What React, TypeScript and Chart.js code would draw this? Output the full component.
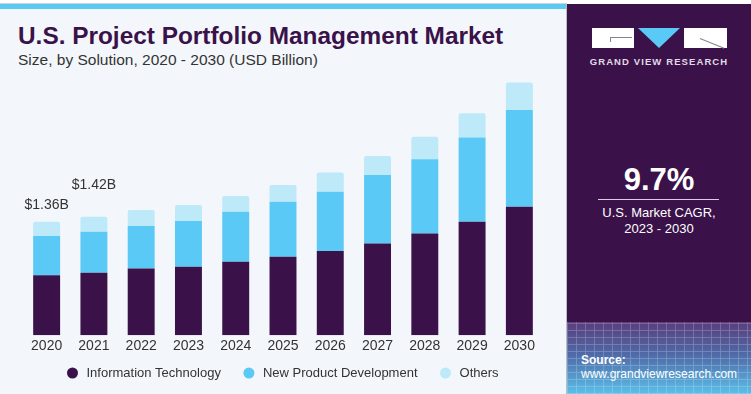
import React, { useEffect, useRef } from "react";
import { Chart, registerables } from "chart.js";

Chart.register(...registerables);

const years = ["2020", "2021", "2022", "2023", "2024", "2025", "2026", "2027", "2028", "2029", "2030"];
const infoTech = [0.72, 0.75, 0.8, 0.82, 0.88, 0.94, 1.01, 1.1, 1.22, 1.36, 1.54];
const newProduct = [0.47, 0.49, 0.51, 0.55, 0.6, 0.66, 0.71, 0.82, 0.89, 1.01, 1.16];
const others = [0.17, 0.18, 0.19, 0.19, 0.19, 0.2, 0.23, 0.23, 0.27, 0.29, 0.33];
const seriesNames = ["Information Technology", "New Product Development", "Others"];
const totalLabels = ["$1.36B", "$1.42B"];

const FONT = "'Liberation Sans', Arial, sans-serif";
const DARK = "#3a1249";
const MID = "#5bc9f5";
const LIGHT = "#bde9f9";

const labelPlugin = {
  id: "totalLabels",
  afterDatasetsDraw(chart: any) {
    const ctx = chart.ctx;
    const yScale = chart.scales.y;
    const meta = chart.getDatasetMeta(2);
    const offsets = [17, 32];
    ctx.save();
    ctx.font = `14px ${FONT}`;
    ctx.fillStyle = "#333333";
    ctx.textAlign = "center";
    ctx.textBaseline = "middle";
    totalLabels.forEach((txt, i) => {
      const total = infoTech[i] + newProduct[i] + others[i];
      const x = meta.data[i].x;
      const y = yScale.getPixelForValue(total) - offsets[i];
      ctx.fillText(txt, x, y);
    });
    ctx.restore();
  },
};

const legendPlugin = {
  id: "customLegend",
  afterDraw(chart: any) {
    const ctx = chart.ctx;
    const area = chart.chartArea;
    const ds = chart.data.datasets;
    const r = 5.5;
    const textGap = 14;
    const itemGap = 28;
    const y = 373;
    ctx.save();
    ctx.font = `13px ${FONT}`;
    const widths = ds.map((d: any) => textGap + ctx.measureText(d.label).width);
    const total = widths.reduce((a: number, b: number) => a + b, 0) + itemGap * (ds.length - 1);
    let x = (area.left + area.right) / 2 - 3 - total / 2 + r;
    ds.forEach((d: any, i: number) => {
      ctx.beginPath();
      ctx.arc(x, y, r, 0, Math.PI * 2);
      ctx.fillStyle = d.backgroundColor;
      ctx.fill();
      ctx.fillStyle = "#333333";
      ctx.textAlign = "left";
      ctx.textBaseline = "middle";
      ctx.fillText(d.label, x + textGap, y);
      x += widths[i] + itemGap;
    });
    ctx.restore();
  },
};

function BarChart() {
  const ref = useRef<HTMLCanvasElement>(null);
  useEffect(() => {
    if (!ref.current) return;
    const chart = new Chart(ref.current, {
      type: "bar",
      data: {
        labels: years,
        datasets: [
          { label: seriesNames[0], data: infoTech, backgroundColor: DARK, borderWidth: 0 },
          { label: seriesNames[1], data: newProduct, backgroundColor: MID, borderWidth: 0 },
          {
            label: seriesNames[2],
            data: others,
            backgroundColor: LIGHT,
            borderWidth: 0,
            borderRadius: { topLeft: 2, topRight: 2, bottomLeft: 0, bottomRight: 0 },
            borderSkipped: false,
          },
        ],
      },
      options: {
        animation: false,
        responsive: false,
        maintainAspectRatio: false,
        layout: { padding: { left: 23, right: 24, top: 60, bottom: 36 } },
        datasets: { bar: { barPercentage: 0.57, categoryPercentage: 1 } },
        plugins: {
          legend: { display: false },
          tooltip: { enabled: false },
        },
        scales: {
          x: {
            stacked: true,
            grid: { display: false, drawTicks: false },
            border: { display: false },
            ticks: { color: "#333333", font: { family: FONT, size: 14 }, padding: 3 },
          },
          y: {
            stacked: true,
            display: false,
            min: 0,
            max: 3.3,
          },
        },
      },
      plugins: [labelPlugin, legendPlugin],
    } as any);
    return () => chart.destroy();
  }, []);
  return <canvas ref={ref} width={567} height={394} style={{ position: "absolute", left: 0, top: 0, width: 567, height: 394 }} />;
}

export default function App() {
  return (
    <div style={{ position: "relative", width: 751, height: 394, overflow: "hidden", background: "#ffffff", fontFamily: FONT }}>
      <style>{`body{margin:0;}`}</style>
      <div style={{ position: "absolute", left: 0, top: 3, width: 567, height: 1, background: "#d0d4d8" }} />
      <div style={{ position: "absolute", left: 0, top: 4, width: 567, height: 5, background: "#5bc9f0" }} />
      <div style={{ position: "absolute", left: 0, top: 9, width: 566, height: 385, background: "#f3f7fb" }} />
      <div style={{ position: "absolute", left: 566, top: 4, width: 1, height: 390, background: "#b8bcc4" }} />
      <div style={{ position: "absolute", left: 18, top: 22, fontSize: 24.4, fontWeight: "bold", color: DARK, whiteSpace: "nowrap" }}>
        U.S. Project Portfolio Management Market
      </div>
      <div style={{ position: "absolute", left: 18, top: 51, fontSize: 15.5, color: "#333333", whiteSpace: "nowrap" }}>
        Size, by Solution, 2020 - 2030 (USD Billion)
      </div>
      <BarChart />
      <div style={{ position: "absolute", left: 567, top: 4, width: 184, height: 390, background: DARK }} />
      <div
        style={{
          position: "absolute",
          left: 567,
          top: 322,
          width: 184,
          height: 72,
          background: "linear-gradient(to bottom, #5a3d7c 0%, #4f6aa8 45%, #5bbfe9 100%)",
        }}
      />
      <div
        style={{
          position: "absolute",
          left: 567,
          top: 322,
          width: 184,
          height: 72,
          opacity: 0.25,
          background:
            "repeating-linear-gradient(90deg, rgba(255,255,255,0.8) 0px, rgba(255,255,255,0.8) 1px, transparent 1px, transparent 9px), repeating-linear-gradient(0deg, rgba(255,255,255,0.8) 0px, rgba(255,255,255,0.8) 1px, transparent 1px, transparent 7px)",
        }}
      />
      {/* logo */}
      <div style={{ position: "absolute", left: 592, top: 28, width: 42, height: 20, background: "#ffffff" }} />
      <div style={{ position: "absolute", left: 610, top: 37, width: 22, height: 1, background: "#8a8090" }} />
      <div style={{ position: "absolute", left: 610, top: 37, width: 1, height: 5, background: "#8a8090" }} />
      <div
        style={{
          position: "absolute",
          left: 638,
          top: 28,
          width: 0,
          height: 0,
          borderLeft: "21px solid transparent",
          borderRight: "21px solid transparent",
          borderTop: "20px solid #5bc9f5",
        }}
      />
      <div style={{ position: "absolute", left: 684, top: 28, width: 43, height: 20, background: "#ffffff" }} />
      <div style={{ position: "absolute", left: 700, top: 38, width: 26, height: 1, background: "#8a8090", transform: "rotate(22deg)", transformOrigin: "left center" }} />
      <div style={{ position: "absolute", left: 567, top: 56, width: 184, textAlign: "center", fontSize: 9.5, fontWeight: "bold", color: "#e0dbe6", letterSpacing: 1.1 }}>
        GRAND VIEW RESEARCH
      </div>
      <div style={{ position: "absolute", left: 567, top: 162, width: 184, textAlign: "center", fontSize: 31, fontWeight: "bold", color: "#ffffff" }}>
        9.7%
      </div>
      <div style={{ position: "absolute", left: 598, top: 199, width: 121, height: 1, background: "#d8d0e0" }} />
      <div style={{ position: "absolute", left: 567, top: 205, width: 184, textAlign: "center", fontSize: 13, color: "#ffffff", lineHeight: "16px" }}>
        U.S. Market CAGR,
        <br />
        2023 - 2030
      </div>
      <div style={{ position: "absolute", left: 581, top: 353, fontSize: 12, fontWeight: "bold", color: "#ffffff" }}>Source:</div>
      <div style={{ position: "absolute", left: 581, top: 367, fontSize: 12, color: "#ffffff" }}>www.grandviewresearch.com</div>
    </div>
  );
}
